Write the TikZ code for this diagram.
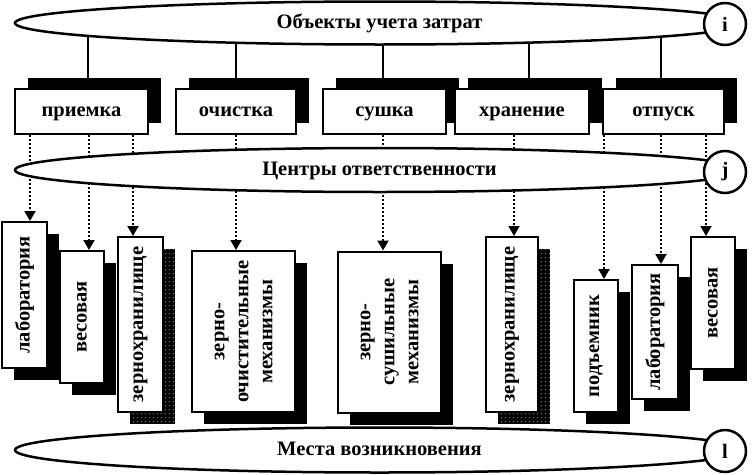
\documentclass[tikz,border=0pt]{standalone}
\usepackage{fontspec}
\setmainfont{Liberation Serif}
\usepackage{graphicx}
\usetikzlibrary{shapes.geometric}
\usetikzlibrary{shadows}
\usetikzlibrary{arrows.meta}
\usetikzlibrary{patterns.meta}

\tikzdeclarepattern{
  name=whiteDots,
  type=uncolored,
  bounding box={(0pt,0pt) and (4pt,4pt)},
  tile size={(4pt,4pt)},
  code={\fill (1pt,1pt) rectangle (2pt,2pt);}
}

\begin{document}
\begin{tikzpicture}[x=1pt,y=-1pt]

          \tikzstyle{bandNode} = [draw, ellipse, line width=2.5pt, fill=white, inner sep=0pt,
                                  text height=10pt, text depth=0pt,
                                  minimum width=729pt, font=\bfseries\fontsize{20.5}{24}\selectfont];
          \tikzstyle{tagNode} = [draw, circle, line width=2.5pt, fill=white, inner sep=0pt,
                                 minimum size=42pt, font=\bfseries\fontsize{20.5}{24}\selectfont];
          \tikzstyle{stageNode} = [draw, fill=white, line width=2pt, inner sep=0pt, minimum height=45pt,
                                   text height=10pt, text depth=0pt,
                                   font=\bfseries\fontsize{20.5}{24}\selectfont,
                                   drop shadow={shadow xshift=13pt, shadow yshift=11pt, fill=black, opacity=1}];
          \tikzstyle{placeNode} = [draw, fill=white, line width=2pt, inner sep=0pt,
                                   font=\bfseries\fontsize{20.5}{24}\selectfont,
                                   drop shadow={shadow xshift=12pt, shadow yshift=-12pt, fill=black, opacity=1}];
          \tikzstyle{grainNode} = [draw, fill=white, line width=2pt, inner sep=0pt,
                                   font=\bfseries\fontsize{20.5}{24}\selectfont,
                                   drop shadow={shadow xshift=12pt, shadow yshift=-12pt, fill=black, opacity=1,
                                                postaction={pattern=whiteDots, pattern color=white}}];

          \tikzstyle{normalEdge} = [line width=1.5pt];
          \tikzstyle{flowEdge} = [dash pattern=on 2pt off 2pt, line width=2pt, -{Triangle[length=10pt,width=11pt]}];

          \useasboundingbox (0,0) rectangle (752,474);

          \coordinate (objC) at (379.5,23);
          \coordinate (centrC) at (379.5,170);
          \coordinate (mestC) at (379.5,450);

          % stages
          \node[stageNode, minimum width=133pt] (priemka) at (81.5,111.5) {приемка};
          \node[stageNode, minimum width=120pt] (ochistka) at (236,111.5) {очистка};
          \node[stageNode, minimum width=123pt] (sushka) at (384.5,111.5) {сушка};
          \node[stageNode, minimum width=134pt] (hranenie) at (522,111.5) {хранение};
          \node[stageNode, minimum width=121pt] (otpusk) at (663.5,111.5) {отпуск};

          % places
          \node[placeNode, minimum width=45pt, minimum height=146pt] (lab) at (24.5,295) {\rotatebox{90}{лаборатория}};
          \node[placeNode, minimum width=44pt, minimum height=132pt] (ves) at (82,317) {\rotatebox{90}{весовая}};
          \node[grainNode, minimum width=45pt, minimum height=175pt] (zhr) at (140.5,324.5) {\rotatebox{90}{зернохранилище}};
          \node[placeNode, minimum width=103pt, minimum height=161pt] (zoch) at (243.5,331.5)
               {\rotatebox{90}{\begin{tabular}{@{}c@{}}зерно-\\очистительные\\механизмы\end{tabular}}};
          \node[placeNode, minimum width=103pt, minimum height=161pt] (zsush) at (389.5,332)
               {\rotatebox{90}{\begin{tabular}{@{}c@{}}зерно-\\сушильные\\механизмы\end{tabular}}};
          \node[grainNode, minimum width=52pt, minimum height=175pt] (zhrB) at (512,324.5) {\rotatebox{90}{зернохранилище}};
          \node[placeNode, minimum width=44pt, minimum height=132pt] (pod) at (596,346) {\rotatebox{90}{подъемник}};
          \node[placeNode, minimum width=46pt, minimum height=134pt] (labB) at (655,332) {\rotatebox{90}{лаборатория}};
          \node[placeNode, minimum width=44pt, minimum height=132pt] (vesB) at (713,303) {\rotatebox{90}{весовая}};

          \draw[normalEdge] (priemka.north -| 88,0) -- (objC -| 88,0);
          \draw[normalEdge] (ochistka.north) -- (objC -| ochistka.north);
          \draw[normalEdge] (sushka.north -| 383,0) -- (objC -| 383,0);
          \draw[normalEdge] (hranenie.north -| 529,0) -- (objC -| 529,0);
          \draw[normalEdge] (otpusk.north -| 661,0) -- (objC -| 661,0);

          \draw[flowEdge] (priemka.south -| 30,0) -- (lab.north -| 30,0);
          \draw[flowEdge] (priemka.south -| 89,0) -- (ves.north -| 89,0);
          \draw[flowEdge] (priemka.south -| 133,0) -- (zhr.north -| 133,0);
          \draw[flowEdge] (ochistka.south) -- (zoch.north -| ochistka.south);
          \draw[flowEdge] (sushka.south -| 383,0) -- (zsush.north -| 383,0);
          \draw[flowEdge] (hranenie.south -| 514,0) -- (zhrB.north -| 514,0);
          \draw[flowEdge] (otpusk.south -| 604,0) -- (pod.north -| 604,0);
          \draw[flowEdge] (otpusk.south -| 661,0) -- (labB.north -| 661,0);
          \draw[flowEdge] (otpusk.south -| 706,0) -- (vesB.north -| 706,0);

          % levels
          \node[bandNode, minimum height=43pt] (obj) at (objC) {Объекты учета затрат};
          \node[bandNode, minimum height=44pt] (centr) at (centrC) {Центры ответственности};
          \node[bandNode, minimum height=45pt] (mest) at (mestC) {Места возникновения};

          \node[tagNode] (ti) at (725,24) {i};
          \node[tagNode] (tj) at (725,172) {j};
          \node[tagNode] (tl) at (725,451) {l};
        \end{tikzpicture}
\end{document}
